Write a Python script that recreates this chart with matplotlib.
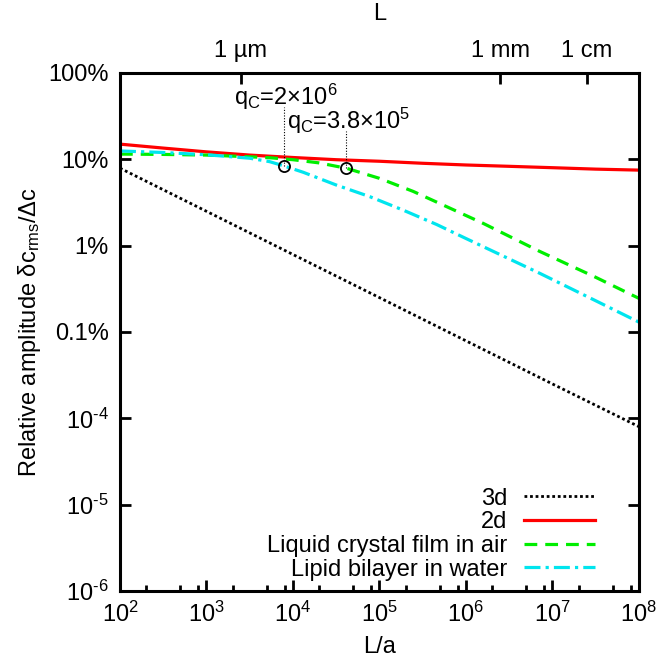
import matplotlib
matplotlib.use('Agg')
import matplotlib.pyplot as plt
import numpy as np
from matplotlib.ticker import LogLocator, FixedLocator, NullLocator, NullFormatter

plt.rcParams['font.family'] = ['Liberation Sans', 'DejaVu Sans']
plt.rcParams['mathtext.fontset'] = 'custom'
plt.rcParams['mathtext.rm'] = 'Liberation Sans'
plt.rcParams['mathtext.it'] = 'Liberation Sans'
plt.rcParams['mathtext.default'] = 'regular'
plt.rcParams['font.size'] = 17

# L/a values, written as log10 exponents
exp_3d = [2, 3, 4, 5, 6, 7, 8]
amp_3d = [0.079, 0.025, 0.0079, 0.0025, 0.00079, 0.00025, 0.000080]

exp_2d = [2, 2.5, 3, 3.5, 4, 4.5, 5, 5.5, 6, 6.5, 7, 7.5, 8]
amp_2d = [0.150, 0.135, 0.122, 0.112, 0.105, 0.099, 0.095, 0.090, 0.086, 0.083, 0.080, 0.077, 0.075]

exp_lc = [2, 2.5, 3, 3.5, 3.75, 4.0, 4.3, 4.62, 5.0, 5.39, 5.77, 6.2, 6.85, 7.5, 8]
amp_lc = [0.115, 0.114, 0.112, 0.107, 0.104, 0.099, 0.091, 0.0787, 0.0602, 0.0425, 0.0285, 0.0181, 0.0086, 0.0043, 0.00245]

exp_lipid = [2, 2.5, 3, 3.5, 3.73, 3.9, 4.12, 4.5, 4.89, 5.27, 5.66, 6.0, 6.85, 7.5, 8]
amp_lipid = [0.125, 0.120, 0.113, 0.103, 0.094, 0.0836, 0.0707, 0.0504, 0.0369, 0.0259, 0.0176, 0.0121, 0.0048, 0.0023, 0.0013]

# crossover points (q_C) and label heights
qc_x = [7.9e3, 4.1e4]
qc_y = [0.0836, 0.0787]
qc_top = [0.40, 0.215]
qc_labels = [r'q$_C$=2×10$^6$', r'q$_C$=3.8×10$^5$']
qc_text_x = [2.1e3, 8.6e3]
qc_text_y = [0.425, 0.228]

yticks = [1e-6, 1e-5, 1e-4, 1e-3, 1e-2, 1e-1, 1]
yticklabels = [r'10$^{\text{-}6}$', r'10$^{\text{-}5}$', r'10$^{\text{-}4}$', '0.1%', '1%', '10%', '100%']
xticks = [1e2, 1e3, 1e4, 1e5, 1e6, 1e7, 1e8]
xticklabels = [r'10$^{%d}$' % k for k in range(2, 9)]

a = 4e-10  # lattice spacing in m, for top axis
top_ticks = [1e-6, 1e-3, 1e-2]
top_labels = ['1 µm', '1 mm', '1 cm']

fig = plt.figure(figsize=(6.57, 6.63), dpi=100)
ax = fig.add_axes([0.1826, 0.1086, 0.7900, 0.7813])

ax.plot(10.0 ** np.array(exp_3d), amp_3d, color='black', lw=2.0, linestyle=(0, (1, 1)), label='3d')
ax.plot(10.0 ** np.array(exp_2d), amp_2d, color='#ff0000', lw=2.3, label='2d')
ax.plot(10.0 ** np.array(exp_lc), amp_lc, color='#00ee00', lw=2.3, linestyle=(0, (4, 2.5)),
        label='Liquid crystal film in air')
ax.plot(10.0 ** np.array(exp_lipid), amp_lipid, color='#00e5ee', lw=2.3, linestyle=(0, (5, 1.6, 1, 1.6)),
        label='Lipid bilayer in water')

for i in range(len(qc_x)):
    ax.plot([qc_x[i], qc_x[i]], [qc_y[i], qc_top[i]], color='black', lw=0.8, linestyle=(0, (1, 1.5)))
    ax.text(qc_text_x[i], qc_text_y[i], qc_labels[i], ha='left', va='baseline', fontsize=17)
ax.plot(qc_x, qc_y, 'o', mfc='none', mec='black', ms=8, mew=1.3)

ax.set_xscale('log')
ax.set_yscale('log')
ax.set_xlim(1e2, 1e8)
ax.set_ylim(1e-6, 1)

ax.set_xticks(xticks)
ax.set_xticklabels(xticklabels)
ax.xaxis.set_minor_locator(LogLocator(base=10, subs=[2, 5, 8]))
ax.xaxis.set_minor_formatter(NullFormatter())
ax.set_yticks(yticks)
ax.set_yticklabels(yticklabels)
ax.yaxis.set_minor_locator(NullLocator())

ax.tick_params(which='both', direction='in', top=False, right=True, width=2)
ax.tick_params(which='major', length=8, pad=8)
ax.tick_params(which='minor', length=4)
for s in ax.spines.values():
    s.set_linewidth(2.2)

ax.set_xlabel('L/a', labelpad=6)
ax.set_ylabel(r'Relative amplitude δc$_{rms}$/Δc', labelpad=4)

top = ax.secondary_xaxis('top', functions=(lambda x: x * a, lambda x: x / a))
top.xaxis.set_major_locator(FixedLocator(top_ticks))
top.set_xticklabels(top_labels)
top.xaxis.set_minor_locator(NullLocator())
top.tick_params(direction='in', length=8, width=2, pad=8)
top.set_xlabel('L', labelpad=14)

ax.legend(loc='lower right', bbox_to_anchor=(0.915, 0.02), frameon=False,
          markerfirst=False, handlelength=3.0, handletextpad=0.7,
          labelspacing=0.07, borderpad=0, borderaxespad=0, fontsize=17)

fig.savefig('out.png', dpi=100)
